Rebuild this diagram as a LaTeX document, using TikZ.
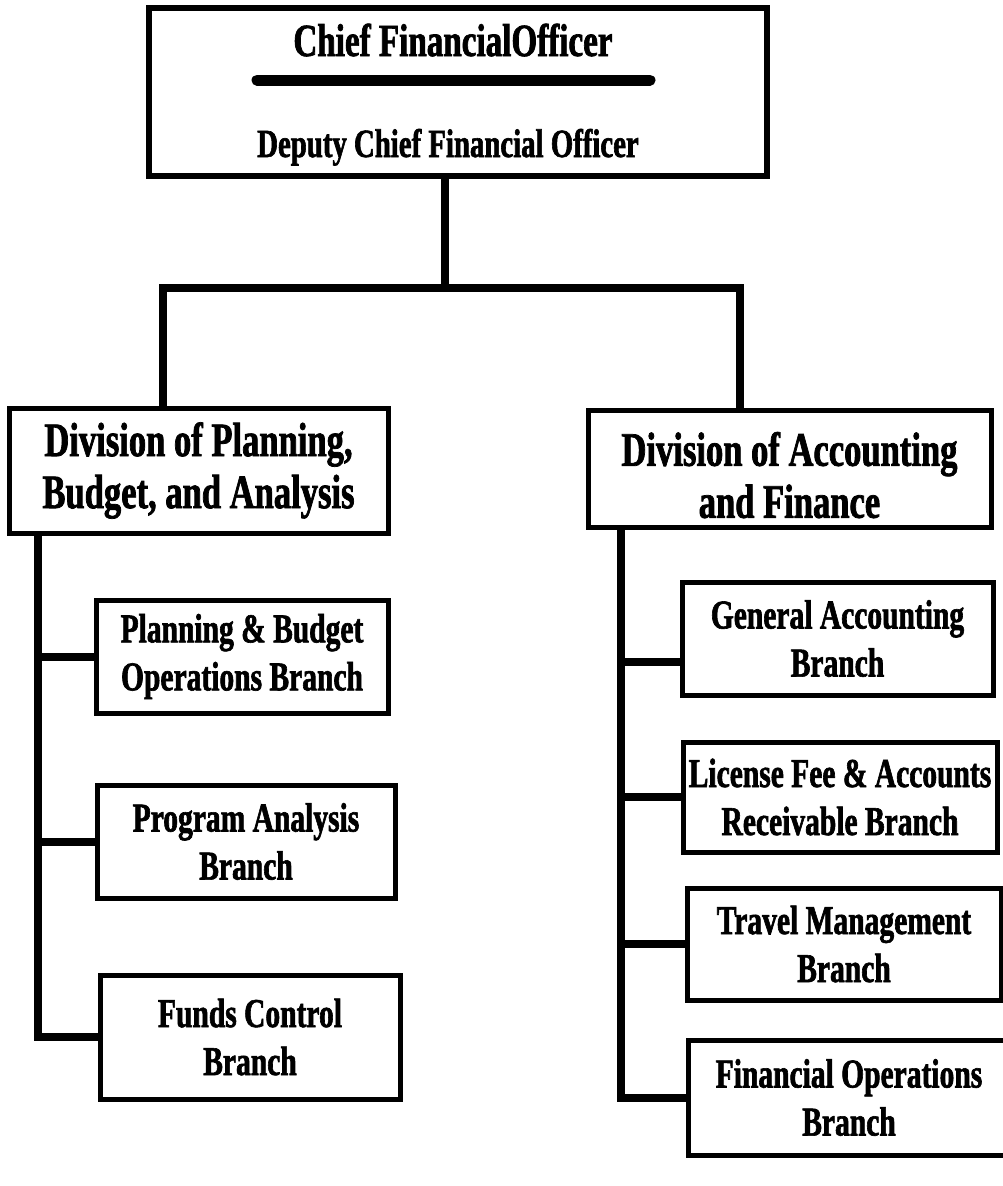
\documentclass[tikz,border=0pt]{standalone}
\usepackage{fontspec}
\setmainfont[FakeStretch=0.72, BoldFeatures={FakeBold=1.5}]{Liberation Serif}
\usetikzlibrary{calc}
\tikzset{
  box/.style={draw, line width=5pt, inner sep=0pt, align=center, font=\bfseries},
  topbox/.style={box, line width=6pt},
  divtext/.style={font=\fontsize{48}{52}\selectfont\bfseries},
  brtext/.style={font=\fontsize{41}{48}\selectfont\bfseries},
  conn/.style={line width=8pt, line cap=butt, line join=miter},
  rule/.style={line width=11pt, line cap=round},
}
\begin{document}
\begin{tikzpicture}[x=1pt, y=-1pt]
\useasboundingbox[fill=white] (0,0) rectangle (1003,1186);

% top box
\node[topbox, minimum width=618pt, minimum height=168pt] (cfo) at (458,92) {};
\node[font=\fontsize{46}{50}\selectfont\bfseries, anchor=base, inner sep=0pt] (cfot) at (453,56) {Chief FinancialOfficer};
\node[font=\fontsize{40}{44}\selectfont\bfseries, anchor=base, inner sep=0pt] (dcfo) at (448,157) {Deputy Chief Financial Officer};
\draw[rule] (257,80) -- (650,80);

% divisions
\node[box, divtext, minimum width=379pt, minimum height=125pt] (dpba) at (198.5,470.5)
  {Division of Planning,\\Budget, and Analysis};
\node[box, divtext, minimum width=403pt, minimum height=117pt] (dacc) at (789.5,468.5)
  {\rule{0pt}{47pt}Division of Accounting\\and Finance};

% left branches
\node[box, brtext, minimum width=292pt, minimum height=113pt] (pb) at (242,656.5)
  {Planning \& Budget\\Operations Branch};
\node[box, brtext, minimum width=298pt, minimum height=113pt] (pa) at (246,841.5)
  {Program Analysis\\Branch};
\node[box, brtext, minimum width=300pt, minimum height=124pt] (fc) at (250,1037)
  {Funds Control\\Branch};

% right branches
\node[box, brtext, minimum width=311pt, minimum height=113pt] (ga) at (837.5,638.5)
  {General Accounting\\Branch};
\node[box, brtext, minimum width=314pt, minimum height=110pt] (lf) at (840,797)
  {License Fee \& Accounts\\Receivable Branch};
\node[box, brtext, minimum width=314pt, minimum height=112pt] (tm) at (844,944)
  {Travel Management\\Branch};
\node[box, brtext, minimum width=322pt, minimum height=115pt] (fo) at (849,1097.5)
  {Financial Operations\\Branch};

% junction coordinates
\coordinate (jm) at (445,288);
\coordinate (jl) at (163,288);
\coordinate (jr) at (740,288);
\coordinate (ls) at (38,0);
\coordinate (rs) at (621,0);
\coordinate (gs) at ($(ga.north west)!0.7!(ga.south west)$);

% connectors
\draw[conn] (cfo.south -| jm) -- (jm);
\draw[conn] (dpba.north -| jl) -- (jl) -- (jr) -- (dacc.north -| jr);

\draw[conn] (dpba.south -| ls) -- (ls |- fc.west) -- (fc.west);
\draw[conn] (ls |- pb.west) -- (pb.west);
\draw[conn] (ls |- pa.west) -- (pa.west);

\draw[conn] (dacc.south -| rs) -- (rs |- fo.west) -- (fo.west);
\draw[conn] (rs |- gs) -- (gs);
\draw[conn] (rs |- lf.west) -- (lf.west);
\draw[conn] (rs |- tm.west) -- (tm.west);
\end{tikzpicture}
\end{document}
